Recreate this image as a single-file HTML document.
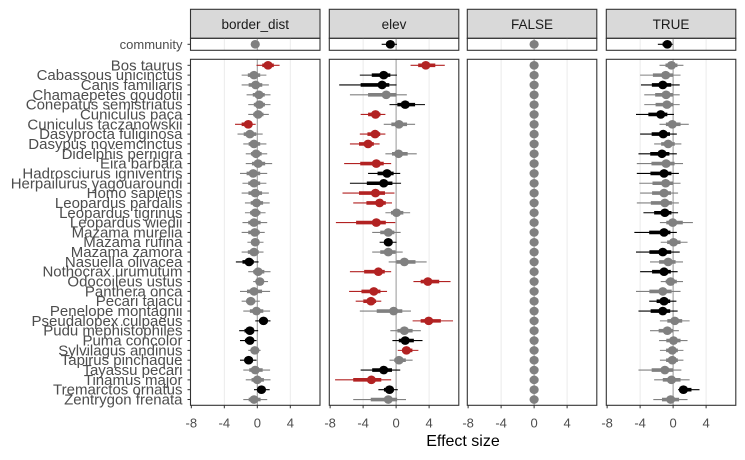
<!DOCTYPE html>
<html><head><meta charset="utf-8">
<style>
body{margin:0;background:#fff;}
svg{display:block;font-family:"Liberation Sans",sans-serif;}
</style></head>
<body>
<svg id="chart" width="745" height="460" viewBox="0 0 745 460"></svg>
<script>
const species = ["Bos taurus","Cabassous unicinctus","Canis familiaris","Chamaepetes goudotii","Conepatus semistriatus","Cuniculus paca","Cuniculus taczanowskii","Dasyprocta fuliginosa","Dasypus novemcinctus","Didelphis pernigra","Eira barbara","Hadrosciurus igniventris","Herpailurus yagouaroundi","Homo sapiens","Leopardus pardalis","Leopardus tigrinus","Leopardus wiedii","Mazama murelia","Mazama rufina","Mazama zamora","Nasuella olivacea","Nothocrax urumutum","Odocoileus ustus","Panthera onca","Pecari tajacu","Penelope montagnii","Pseudalopex culpaeus","Pudu mephistophiles","Puma concolor","Sylvilagus andinus","Tapirus pinchaque","Tayassu pecari","Tinamus major","Tremarctos ornatus","Zentrygon frenata"];
const facets = ["border_dist","elev","FALSE","TRUE"];
const xTicks = [-8,-4,0,4];
// border_dist
const bdMid = [1.3,-0.4,-0.2,0.2,0.25,0.1,-1.1,-0.9,-0.4,-0.15,0.1,-0.5,-0.4,-0.25,-0.1,-0.25,-0.4,-0.3,-0.25,-0.4,-1.0,0.1,0.3,-0.4,-0.8,-0.1,0.75,-0.9,-0.9,-0.3,-1.05,-0.25,0,0.5,-0.4];
const bdLo = [-0.1,-1.9,-1.9,-1.3,-1.1,-1.1,-2.7,-2.4,-1.7,-1.4,-1.4,-2.1,-1.8,-1.9,-1.5,-1.5,-1.8,-1.9,-1.2,-1.9,-2.6,-1.1,-0.5,-2.1,-1.9,-1.7,-0.25,-2.2,-2.1,-1.1,-2.1,-1.7,-1.4,-0.4,-1.7];
const bdHi = [2.7,1.1,1.4,1.6,1.6,1.4,-0.2,0.65,1.1,1.2,1.8,1.2,1.1,1.4,1.5,1.0,1.2,0.9,0.75,0.75,0.15,1.6,1.3,1.55,0.3,1.55,1.6,0.1,-0.1,0.4,-0.1,1.55,1.6,1.5,1.2];
const bdCol = ["r","g","g","g","g","g","r","g","g","g","g","g","g","g","g","g","g","g","g","g","k","g","g","g","g","g","k","k","k","g","k","g","g","k","g"];
// elev
const elMid = [3.6,-1.5,-1.7,-1.2,1.1,-2.5,0.35,-2.55,-3.4,0.3,-2.4,-1.1,-1.5,-2.5,-2.0,0.05,-2.4,-0.95,-0.95,-0.95,1.0,-2.15,3.85,-2.7,-3.05,-0.3,3.95,1.0,1.1,1.25,0.35,-1.5,-3.0,-0.8,-0.95];
const elLo = [1.75,-4.4,-6.9,-5.6,-0.8,-4.3,-1.5,-4.4,-5.6,-1.3,-6.3,-3.4,-5.6,-6.5,-5.2,-1.3,-7.3,-2.9,-2.0,-2.9,-0.9,-5.6,2.1,-5.7,-4.9,-4.4,2.0,-0.7,-0.45,0.2,-0.8,-4.3,-7.4,-2.15,-5.2];
const elHi = [5.9,0.1,0.05,1.3,3.5,-1.3,2.3,-1.3,-2.0,2.5,-0.6,0.5,0.6,-0.2,-0.5,1.7,-0.1,0.55,0.05,0.8,3.7,-0.6,6.6,-1.1,-1.8,1.8,6.9,3.0,3.2,2.7,2.0,0.5,-0.6,0.2,1.2];
const elCol = ["r","k","k","g","k","r","g","r","r","g","r","k","k","r","r","g","r","g","k","g","g","r","r","r","r","g","r","g","k","r","g","k","r","k","g"];
// FALSE
const fsMid = species.map(()=>0);
// TRUE
const trMid = [-0.2,-0.9,-1.25,-0.85,-0.75,-1.5,-0.1,-1.2,-0.6,-1.35,-0.85,-1.1,-0.9,-1.1,-1.0,-1.0,-0.05,-1.1,0.05,-1.25,-0.6,-1.1,-0.3,-1.25,-1.1,-1.25,0.2,-0.7,0.05,-0.1,-0.1,-1.0,-0.2,1.25,-0.3];
const trLo = [-1.65,-4.0,-3.9,-3.5,-3.5,-4.5,-1.65,-4.0,-2.3,-4.2,-4.4,-4.4,-4.1,-4.0,-4.4,-3.6,-1.6,-4.7,-1.5,-4.5,-2.8,-4.0,-1.5,-4.5,-2.9,-4.2,-1.6,-2.8,-1.7,-1.6,-1.6,-4.2,-2.3,0.6,-2.4];
const trHi = [1.25,0.9,0.8,0.8,0.8,0.1,1.9,0.45,1.0,0.45,1.2,0.7,0.9,0.6,0.7,0.6,2.4,0.45,1.75,0.8,1.2,0.55,1.2,0.9,0.4,0.55,2.0,0.7,1.75,1.25,1.25,1.0,2.0,3.2,1.75];
const trCol = ["g","g","k","g","g","k","g","k","g","k","g","k","g","g","g","k","g","k","g","k","g","k","g","g","k","k","g","g","g","g","g","g","g","k","g"];
// community row
const commMid = [-0.25,-0.7,0,-0.7];
const commLo = [-0.25,-1.75,0,-1.85];
const commHi = [-0.25,0.1,0,-0.05];
const commCol = ["g","k","g","k"];

const series=[{m:bdMid,l:bdLo,h:bdHi,c:bdCol},{m:elMid,l:elLo,h:elHi,c:elCol},{m:fsMid,l:fsMid,h:fsMid,c:species.map(()=>"g")},{m:trMid,l:trLo,h:trHi,c:trCol}];
const COL={r:"#b22222",g:"#808080",k:"#000000"};
const NS="http://www.w3.org/2000/svg";
const svg=document.getElementById("chart");
function el(t,a,p){const e=document.createElementNS(NS,t);for(const k in a)e.setAttribute(k,a[k]);(p||svg).appendChild(e);return e;}
const panelL=[190.5,329.3,467.3,606.3], panelW=129.5;
const xMin=-8.1,xMax=7.6;
function xs(i,v){return panelL[i]+(v-xMin)/(xMax-xMin)*panelW;}
const mainTop=59.3, mainBot=405.3, rowY0=65.3, rowStep=9.83;
function ys(j){return rowY0+j*rowStep;}
const commTop=38.3, commBot=50.3, commY=44.3;

function drawInterval(g,i,y,m,l,h,c){
  const col=COL[c];
  if(h>l){
    let a=el("line",{x1:xs(i,l),x2:xs(i,h),y1:y,y2:y,stroke:col,"stroke-width":1.1},g);
    
    let b=el("line",{x1:xs(i,m-(m-l)*0.5),x2:xs(i,m+(h-m)*0.5),y1:y,y2:y,stroke:col,"stroke-width":3.6},g);
    
  }
  let p=el("ellipse",{cx:xs(i,m),cy:y,rx:4.6,ry:4.3,fill:col},g);
  
}

for(let i=0;i<4;i++){
  const g=el("g",{});
  
  
  let s=el("rect",{x:panelL[i],y:9.3,width:panelW,height:29,fill:"#d9d9d9",stroke:"#333","stroke-width":1.1},g);
  
  let st=el("text",{x:panelL[i]+panelW/2,y:29,"text-anchor":"middle","font-size":13.5,fill:"#1a1a1a"},g);
  st.textContent=facets[i];
  
  [[commTop,commBot],[mainTop,mainBot]].forEach(([t,b])=>{
    xTicks.forEach(v=>{if(v!==0&&v!==-8){const gl=el("line",{x1:xs(i,v),x2:xs(i,v),y1:t,y2:b,stroke:"#ebebeb","stroke-width":1},g);}});
    const z=el("line",{x1:xs(i,0),x2:xs(i,0),y1:t,y2:b,stroke:"#a0a0a0","stroke-width":1.1},g);
    
  });
  drawInterval(g,i,commY,commMid[i],commLo[i],commHi[i],commCol[i]);
  const S=series[i];
  for(let j=0;j<species.length;j++) drawInterval(g,i,ys(j),S.m[j],S.l[j],S.h[j],S.c[j]);
  let b1=el("rect",{x:panelL[i],y:commTop,width:panelW,height:commBot-commTop,fill:"none",stroke:"#333","stroke-width":1.1},g);
  
  let b2=el("rect",{x:panelL[i],y:mainTop,width:panelW,height:mainBot-mainTop,fill:"none",stroke:"#333","stroke-width":1.1},g);
  
  xTicks.forEach(v=>{
    const x=xs(i,v);
    const tk=el("line",{x1:x,x2:x,y1:mainBot,y2:mainBot+3,stroke:"#333","stroke-width":1},g);
    
    const tl=el("text",{x:x,y:427.5,"text-anchor":"middle","font-size":13,fill:"#4d4d4d"},g);
    tl.textContent=v;
    
  });
}
const cl=el("text",{x:182.5,y:commY+4.6,"text-anchor":"end","font-size":13,fill:"#4d4d4d"});
cl.textContent="community";

el("line",{x1:187.5,x2:190.5,y1:commY,y2:commY,stroke:"#333"});
for(let j=0;j<species.length;j++){
  const t=el("text",{x:182.5,y:ys(j)+5,"text-anchor":"end","font-size":15,fill:"#4d4d4d"});
  t.textContent=species[j];
  
  const tk=el("line",{x1:187.5,x2:190.5,y1:ys(j),y2:ys(j),stroke:"#333"});
  
}
const xt=el("text",{x:463,y:446,"text-anchor":"middle","font-size":16,fill:"#000"});
xt.textContent="Effect size";

</script>
</body></html>
